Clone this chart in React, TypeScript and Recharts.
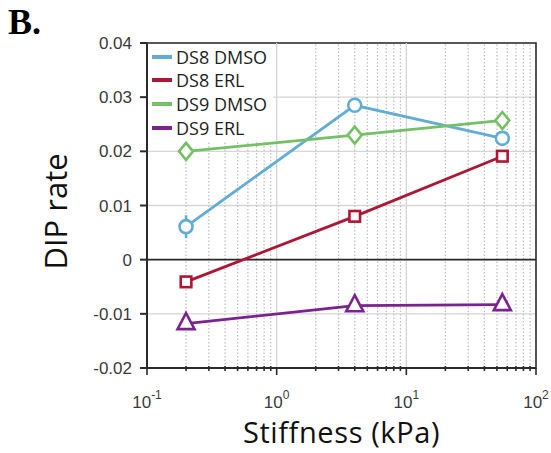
import {
  CartesianGrid,
  ErrorBar,
  Legend,
  Line,
  LineChart,
  ReferenceArea,
  ReferenceLine,
  XAxis,
  YAxis,
} from "recharts";

// substrate stiffness (kPa) for each measurement
const stiffness = [0.2, 4, 55];

// DIP rates per condition
const ds8Dmso = [0.0061, 0.0285, 0.0224];
const ds8DmsoErr = [0.0021, 0, 0];
const ds8Erl = [-0.0041, 0.008, 0.0191];
const ds9Dmso = [0.02, 0.023, 0.0257];
const ds9Erl = [-0.0118, -0.0085, -0.0083];

const xMajorTicks = [0.1, 1, 10, 100];
const xExponents = ["-1", "0", "1", "2"];
const minorSteps = [2, 3, 4, 5, 6, 7, 8, 9];
const yTicks = [-0.02, -0.01, 0, 0.01, 0.02, 0.03, 0.04];

const xMinorTicks = xMajorTicks
  .slice(0, -1)
  .flatMap((d) => minorSteps.map((m) => +(d * m).toPrecision(3)));

type Marker = "circle" | "square" | "diamond" | "triangle";

const series = [
  { name: "DS8 DMSO", color: "#62acd5", marker: "circle" as Marker, values: ds8Dmso, err: ds8DmsoErr },
  { name: "DS8 ERL", color: "#ad1735", marker: "square" as Marker, values: ds8Erl },
  { name: "DS9 DMSO", color: "#74c065", marker: "diamond" as Marker, values: ds9Dmso },
  { name: "DS9 ERL", color: "#7a2390", marker: "triangle" as Marker, values: ds9Erl },
];

const toRows = (values: number[], err?: number[]) =>
  stiffness.map((x, i) => ({ x, y: values[i], err: err ? err[i] : 0 }));

const AXIS = "#2b2b2b";
const TICK_TEXT = "#3a3a3a";
const GRID = "#d6d6d6";
const TITLE_FONT = "Open Sans";

function makeDot(marker: Marker, color: string) {
  return (props: any) => {
    const { cx, cy, index } = props;
    if (cx == null || cy == null) return <g key={index} />;
    const common = { fill: "#fff", stroke: color, strokeWidth: 2.6 };
    if (marker === "circle") return <circle key={index} cx={cx} cy={cy} r={6.5} {...common} />;
    if (marker === "square")
      return <rect key={index} x={cx - 5.3} y={cy - 5.3} width={10.6} height={10.6} {...common} />;
    if (marker === "diamond")
      return (
        <polygon
          key={index}
          points={`${cx},${cy - 8.5} ${cx + 7},${cy} ${cx},${cy + 8.5} ${cx - 7},${cy}`}
          {...common}
        />
      );
    return (
      <polygon
        key={index}
        points={`${cx},${cy - 10.5} ${cx + 8.5},${cy + 5.5} ${cx - 8.5},${cy + 5.5}`}
        {...common}
      />
    );
  };
}

// log x-axis ticks: majors get "10^n" labels, minors only a short mark
function XTick(props: any) {
  const { x, y, payload } = props;
  const idx = xMajorTicks.indexOf(payload.value);
  const major = idx >= 0;
  return (
    <g>
      <line x1={x} x2={x} y1={y - (major ? 0 : 2)} y2={y + (major ? 7 : 3)} stroke={AXIS} strokeWidth={1.6} />
      {major && (
        <text x={x} y={y + 40} textAnchor="middle" fill={TICK_TEXT} fontFamily="Liberation Sans, Arial" fontSize={17}>
          10
          <tspan fontSize={12} dy={-9}>
            {xExponents[idx]}
          </tspan>
        </text>
      )}
    </g>
  );
}

function LegendBox() {
  return (
    <div style={{ background: "#fff", padding: "1px 6px 2px 4px", whiteSpace: "nowrap", display: "inline-block" }}>
      {series.map((s) => (
        <div key={s.name} style={{ display: "flex", alignItems: "center", height: 23.6 }}>
          <span style={{ display: "inline-block", width: 20, height: 4, background: s.color, marginRight: 4 }} />
          <span style={{ fontFamily: TITLE_FONT, fontSize: 18, color: "#1e1e1e", lineHeight: 1 }}>{s.name}</span>
        </div>
      ))}
    </div>
  );
}

export default function App() {
  return (
    <div style={{ position: "absolute", left: 0, top: 0, width: 551, height: 453, background: "#fff" }}>
      <div
        style={{
          position: "absolute",
          left: 8,
          top: 2,
          fontFamily: "Liberation Serif",
          fontWeight: "bold",
          fontSize: 36,
          lineHeight: "40px",
          color: "#000",
        }}
      >
        B.
      </div>
      <LineChart width={551} height={453} margin={{ top: 43, right: 15, bottom: 0, left: 87 }}>
        <CartesianGrid vertical={false} stroke={GRID} strokeWidth={1.3} />
        {xMinorTicks.map((v) => (
          <ReferenceLine key={`m${v}`} x={v} stroke="#bdbdbd" strokeWidth={1.2} strokeDasharray="1.5 2" />
        ))}
        {xMajorTicks.slice(1, -1).map((v) => (
          <ReferenceLine key={`M${v}`} x={v} stroke={GRID} strokeWidth={1.3} />
        ))}
        <ReferenceLine y={0} stroke={AXIS} strokeWidth={1.6} />
        <ReferenceArea x1={0.1} x2={100} y1={-0.02} y2={0.04} fill="none" stroke={AXIS} strokeWidth={1.6} />
        <XAxis
          dataKey="x"
          type="number"
          scale="log"
          domain={[0.1, 100]}
          ticks={[...xMajorTicks, ...xMinorTicks]}
          allowDataOverflow
          height={85}
          tickSize={0}
          tickMargin={0}
          tickLine={false}
          tick={<XTick />}
          stroke={AXIS}
          strokeWidth={2}
          interval={0}
          label={{
            value: "Stiffness (kPa)",
            position: "insideBottom",
            offset: 10,
            fill: "#111",
            fontFamily: TITLE_FONT,
            fontSize: 29,
            letterSpacing: 0.6,
          }}
        />
        <YAxis
          type="number"
          domain={[-0.02, 0.04]}
          ticks={yTicks}
          interval={0}
          width={60}
          tickSize={7}
          tickMargin={8}
          tickFormatter={(v: number) => (v === 0 ? "0" : v.toFixed(2))}
          tick={{ fill: TICK_TEXT, fontSize: 17, fontFamily: "Liberation Sans, Arial" }}
          stroke={AXIS}
          strokeWidth={2}
          label={(props: any) => {
            const vb = props.viewBox;
            const cx = 67;
            const cy = vb.y + vb.height / 2 + 6;
            return (
              <text
                x={cx}
                y={cy}
                transform={`rotate(-90, ${cx}, ${cy})`}
                textAnchor="middle"
                fill="#111"
                fontFamily={TITLE_FONT}
                fontSize={31}
              >
                DIP rate
              </text>
            );
          }}
        />
        <Legend
          layout="vertical"
          align="center"
          verticalAlign="middle"
          wrapperStyle={{ left: 148, top: 44, width: "auto" }}
          content={() => <LegendBox />}
        />
        {series.map((s) => (
          <Line
            key={s.name}
            data={toRows(s.values, s.err)}
            dataKey="y"
            name={s.name}
            stroke={s.color}
            strokeWidth={2.8}
            dot={makeDot(s.marker, s.color)}
            activeDot={false}
            isAnimationActive={false}
          >
            {s.err && <ErrorBar dataKey="err" direction="y" width={0} stroke={s.color} strokeWidth={2.6} />}
          </Line>
        ))}
      </LineChart>
    </div>
  );
}
